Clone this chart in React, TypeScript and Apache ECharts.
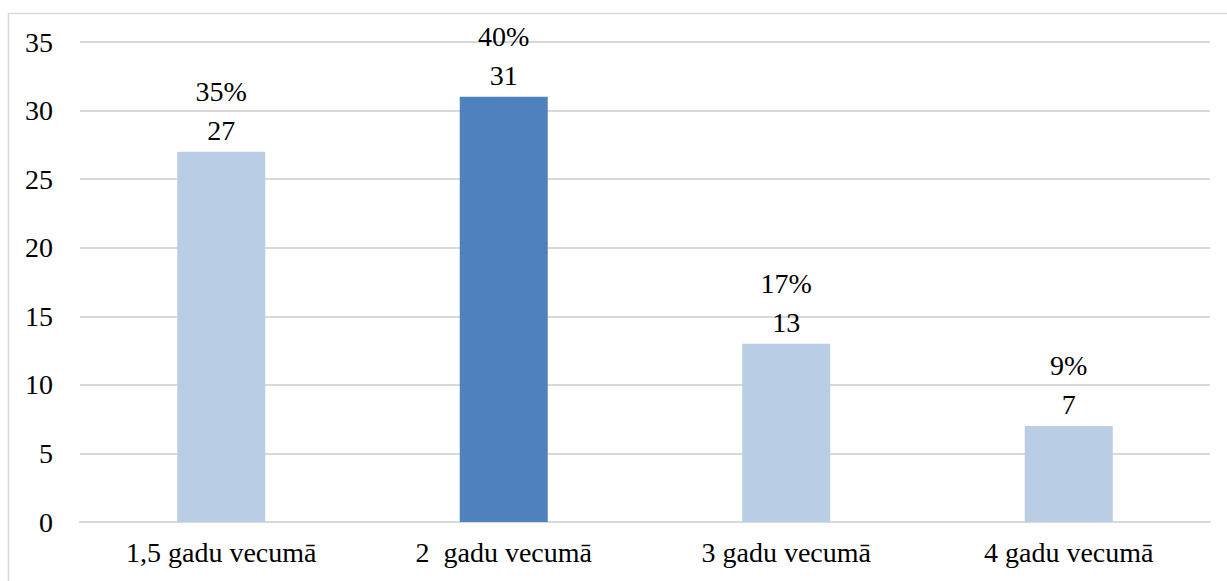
import React, { useEffect, useRef } from "react";
import * as echarts from "echarts";

const categories = ["1,5 gadu vecumā", "2  gadu vecumā", "3 gadu vecumā", "4 gadu vecumā"];
const values = [27, 31, 13, 7];
const percents = [35, 40, 17, 9];
const highlightIndex = 1;

const FONT = "Liberation Serif";

export default function App() {
  const ref = useRef<HTMLDivElement>(null);
  useEffect(() => {
    if (!ref.current) return;
    const chart = echarts.init(ref.current, null, { renderer: "svg" });
    chart.setOption({
      animation: false,
      backgroundColor: "#ffffff",
      graphic: [
        {
          type: "rect",
          shape: { x: 8.5, y: 13.5, width: 1240, height: 600 },
          style: { fill: "none", stroke: "#d9d9d9", lineWidth: 1.5 },
          silent: true,
          z: -10,
        },
      ],
      grid: { left: 80, right: 17, top: 42, bottom: 59 },
      xAxis: {
        type: "category",
        data: categories,
        axisLine: { show: true, lineStyle: { color: "#d9d9d9", width: 2 } },
        axisTick: { show: false },
        axisLabel: {
          color: "#000",
          fontFamily: FONT,
          fontSize: 28,
          margin: 16,
        },
      },
      yAxis: {
        type: "value",
        min: 0,
        max: 35,
        interval: 5,
        axisLine: { show: false },
        axisTick: { show: false },
        splitLine: { lineStyle: { color: "#d9d9d9", width: 2 } },
        axisLabel: {
          color: "#000",
          fontFamily: FONT,
          fontSize: 28,
          margin: 27,
        },
      },
      series: [
        {
          type: "bar",
          barWidth: 88,
          data: values.map((v, i) => ({
            value: v,
            itemStyle: { color: i === highlightIndex ? "#4f81bd" : "#b9cde5" },
          })),
          label: {
            show: true,
            position: "top",
            distance: 2,
            color: "#000",
            fontFamily: FONT,
            fontSize: 28,
            lineHeight: 39,
            formatter: (p: any) => `${percents[p.dataIndex]}%\n${p.value}`,
          },
        },
      ],
    });
    return () => chart.dispose();
  }, []);
  return (
    <div
      ref={ref}
      style={{ position: "fixed", left: 0, top: 0, width: 1227, height: 581 }}
    />
  );
}
